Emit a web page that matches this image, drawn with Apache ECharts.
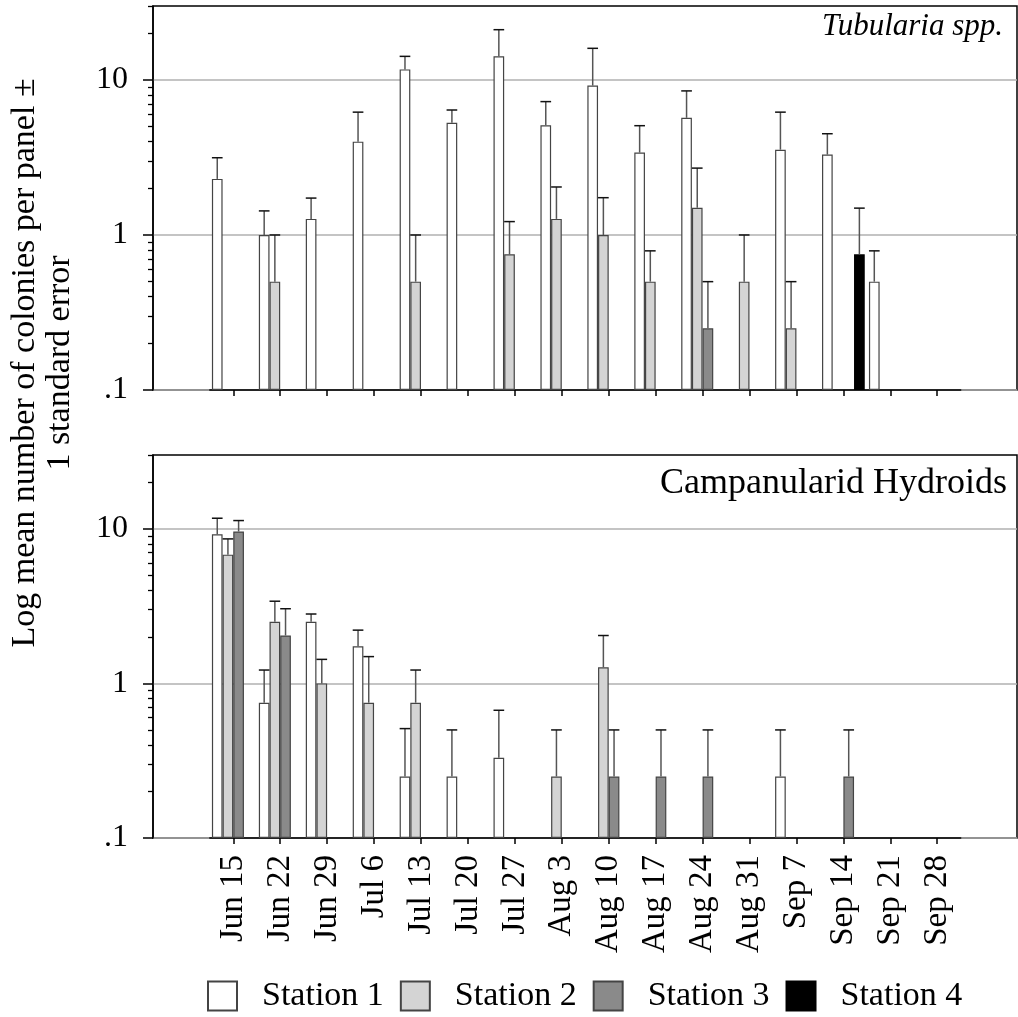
<!DOCTYPE html>
<html>
<head>
<meta charset="utf-8">
<script src="https://cdn.jsdelivr.net/npm/echarts@6.0.0/dist/echarts.min.js"></script>
<style>
  html, body { margin: 0; padding: 0; background: #fff; }
  #main { width: 1018px; height: 1017px; }
</style>
</head>
<body>
<div id="main"></div>
<script>
// sampling dates
var dates = ['Jun 15', 'Jun 22', 'Jun 29', 'Jul 6', 'Jul 13', 'Jul 20', 'Jul 27', 'Aug 3',
             'Aug 10', 'Aug 17', 'Aug 24', 'Aug 31', 'Sep 7', 'Sep 14', 'Sep 21', 'Sep 28'];
var stations = ['Station 1', 'Station 2', 'Station 3', 'Station 4'];

// Tubularia spp. : mean and mean + 1 SE
var tubS1    = [2.3, 1.0, 1.27, 4.0, 11.7, 5.3, 14.2, 5.1, 9.2, 3.4, 5.7, null, 3.55, 3.3, 0.5, null];
var tubS1Err = [3.15, 1.43, 1.73, 6.2, 14.2, 6.4, 21.1, 7.25, 16.0, 5.07, 8.5, null, 6.2, 4.5, 0.79, null];
var tubS2    = [null, 0.5, null, null, 0.5, null, 0.75, 1.27, 1.0, 0.5, 1.5, 0.5, 0.25, null, null, null];
var tubS2Err = [null, 1.0, null, null, 1.0, null, 1.22, 2.04, 1.74, 0.79, 2.7, 1.0, 0.5, null, null, null];
var tubS3    = [null, null, null, null, null, null, null, null, null, null, 0.25, null, null, null, null, null];
var tubS3Err = [null, null, null, null, null, null, null, null, null, null, 0.5, null, null, null, null, null];
var tubS4    = [null, null, null, null, null, null, null, null, null, null, null, null, null, 0.75, null, null];
var tubS4Err = [null, null, null, null, null, null, null, null, null, null, null, null, null, 1.49, null, null];

// Campanularid hydroids
var campS1    = [9.2, 0.75, 2.5, 1.74, 0.25, 0.25, 0.33, null, null, null, null, null, 0.25, null, null, null];
var campS1Err = [11.7, 1.22, 2.81, 2.21, 0.51, 0.5, 0.67, null, null, null, null, null, 0.5, null, null, null];
var campS2    = [6.8, 2.5, 1.0, 0.75, 0.75, null, null, 0.25, 1.27, null, null, null, null, null, null, null];
var campS2Err = [8.6, 3.4, 1.43, 1.49, 1.22, null, null, 0.5, 2.04, null, null, null, null, null, null, null];
var campS3    = [9.6, 2.04, null, null, null, null, null, null, 0.25, 0.25, 0.25, null, null, 0.25, null, null];
var campS3Err = [11.3, 3.04, null, null, null, null, null, null, 0.5, 0.5, 0.5, null, null, 0.5, null, null];
var campS4    = [null, null, null, null, null, null, null, null, null, null, null, null, null, null, null, null];
var campS4Err = [null, null, null, null, null, null, null, null, null, null, null, null, null, null, null, null];

var yTicks = [0.1, 1, 10];
var yMinorTicks = [0.2, 0.3, 0.4, 0.5, 0.6, 0.7, 0.8, 0.9, 2, 3, 4, 5, 6, 7, 8, 9, 20, 30];
var yTitle = ['Log mean number of colonies per panel \u00b1', '1 standard error'];

var FONT = 'Liberation Serif';
var fills = ['#ffffff', '#d4d4d4', '#8a8a8a', '#000000'];
var catGap = 0.09;

var tubMeans = [tubS1, tubS2, tubS3, tubS4];
var tubErrs = [tubS1Err, tubS2Err, tubS3Err, tubS4Err];
var campMeans = [campS1, campS2, campS3, campS4];
var campErrs = [campS1Err, campS2Err, campS3Err, campS4Err];

function errData(means, errs) {
  var out = [];
  for (var s = 0; s < means.length; s++) {
    for (var i = 0; i < dates.length; i++) {
      if (means[s][i] != null && errs[s][i] != null) out.push([i, s, means[s][i], errs[s][i]]);
    }
  }
  return out;
}

function renderErr(params, api) {
  var cat = api.value(0), st = api.value(1);
  var band = api.size([1, 1])[0];
  var w = band * (1 - catGap) / 4;
  var p0 = api.coord([cat, api.value(2)]);
  var p1 = api.coord([cat, api.value(3)]);
  var x = p0[0] + (st - 1.5) * w;
  return {
    type: 'group',
    children: [
      { type: 'line', shape: { x1: x, y1: p0[1], x2: x, y2: p1[1] }, style: { stroke: '#555', lineWidth: 1.5 } },
      { type: 'line', shape: { x1: x - w / 2, y1: p1[1], x2: x + w / 2, y2: p1[1] }, style: { stroke: '#111', lineWidth: 1.5 } }
    ]
  };
}

var frameTop = 6, frameH = 384, frame2Top = 455, frame2H = 383;
var dataLeft = 209.8, dataW = 750.9;

function logAxis(grid, extra) {
  var a = { gridIndex: grid, type: 'log', logBase: 10, min: 0.1, max: 30, startValue: 0.1 };
  for (var k in extra) a[k] = extra[k];
  return a;
}

var majorY = {
  position: 'left',
  axisLine: { show: true, lineStyle: { color: '#000', width: 1.5 } },
  axisTick: { show: true, length: 10, inside: false, customValues: yTicks, lineStyle: { color: '#000', width: 1.5 } },
  axisLabel: {
    customValues: yTicks, margin: 25, color: '#000', fontFamily: FONT, fontSize: 32,
    formatter: function (v) { return v < 1 ? '.1' : String(Math.round(v)); }
  },
  splitLine: { show: true, lineStyle: { color: '#b0b0b0', width: 1.5 } }
};
var minorY = {
  position: 'left',
  axisLine: { show: false },
  axisLabel: { show: false },
  splitLine: { show: false },
  axisTick: { show: true, length: 5, customValues: yMinorTicks, lineStyle: { color: '#000', width: 1.3 } }
};
var hiddenY = { show: false, splitLine: { show: false } };

function titleAxis(text, gap) {
  return { gridIndex: 4, type: 'value', min: 0, max: 1, position: 'left', offset: 0,
    axisLine: { show: false }, axisTick: { show: false }, axisLabel: { show: false }, splitLine: { show: false },
    name: text, nameLocation: 'middle', nameGap: gap,
    nameTextStyle: { fontFamily: FONT, fontSize: 34, color: '#000' } };
}

var series = [];
[[tubMeans, 2, 2], [campMeans, 3, 3]].forEach(function (p) {
  for (var s = 0; s < 4; s++) {
    series.push({
      name: stations[s], type: 'bar', xAxisIndex: p[1], yAxisIndex: p[2],
      data: p[0][s], barGap: '0%', barCategoryGap: (catGap * 100) + '%',
      itemStyle: { color: fills[s], borderColor: s === 3 ? '#000' : '#444', borderWidth: 1.2 },
      z: 2
    });
  }
});
series.push({ type: 'custom', xAxisIndex: 2, yAxisIndex: 2, data: errData(tubMeans, tubErrs),
  encode: { x: 0, y: 3 }, renderItem: renderErr, z: 4 });
series.push({ type: 'custom', xAxisIndex: 3, yAxisIndex: 3, data: errData(campMeans, campErrs),
  encode: { x: 0, y: 3 }, renderItem: renderErr, z: 4 });

var chart = echarts.init(document.getElementById('main'));
chart.setOption({
  animation: false,
  backgroundColor: '#fff',
  textStyle: { fontFamily: FONT },
  title: [
    { text: 'Tubularia spp.', right: 10, top: 6,
      textStyle: { fontFamily: FONT, fontStyle: 'italic', fontWeight: 'normal', fontSize: 31, color: '#000' } },
    { text: 'Campanularid Hydroids', right: 6, top: 461,
      textStyle: { fontFamily: FONT, fontWeight: 'normal', fontSize: 36, color: '#000' } }
  ],
  legend: {
    data: stations, left: 202, top: 974, icon: 'rect',
    itemWidth: 29, itemHeight: 29, itemGap: 16,
    textStyle: { fontFamily: FONT, fontSize: 34, color: '#000', padding: [0, 0, 0, 20] }
  },
  grid: [
    { left: 153, right: 1, top: frameTop, height: frameH, show: true, borderColor: '#000', borderWidth: 1.5, backgroundColor: 'transparent', outerBoundsMode: 'none' },
    { left: 153, right: 1, top: frame2Top, height: frame2H, show: true, borderColor: '#000', borderWidth: 1.5, backgroundColor: 'transparent', outerBoundsMode: 'none' },
    { left: dataLeft, width: dataW, top: frameTop, height: frameH, outerBoundsMode: 'none' },
    { left: dataLeft, width: dataW, top: frame2Top, height: frame2H, outerBoundsMode: 'none' },
    // holder for the shared y-axis title
    { left: 153, right: 1, top: 100, height: 526, outerBoundsMode: 'none' }
  ],
  xAxis: [
    { gridIndex: 0, type: 'value', show: false },
    { gridIndex: 1, type: 'value', show: false },
    { gridIndex: 2, type: 'category', data: dates,
      axisLine: { show: true, lineStyle: { color: '#000', width: 1.5 } },
      axisTick: { show: true, alignWithLabel: true, length: 6, lineStyle: { color: '#000', width: 1.5 } },
      axisLabel: { show: false } },
    { gridIndex: 3, type: 'category', data: dates,
      axisLine: { show: true, lineStyle: { color: '#000', width: 1.5 } },
      axisTick: { show: true, alignWithLabel: true, length: 6, lineStyle: { color: '#000', width: 1.5 } },
      axisLabel: { rotate: 90, margin: 17, interval: 0, color: '#000', fontFamily: FONT, fontSize: 33 } },
    { gridIndex: 4, type: 'value', show: false }
  ],
  yAxis: [
    logAxis(0, majorY),
    logAxis(1, majorY),
    logAxis(2, hiddenY),
    logAxis(3, hiddenY),
    logAxis(0, minorY),
    logAxis(1, minorY),
    titleAxis(yTitle[0], 111),
    titleAxis(yTitle[1], 76)
  ],
  series: series
});
</script>
</body>
</html>
